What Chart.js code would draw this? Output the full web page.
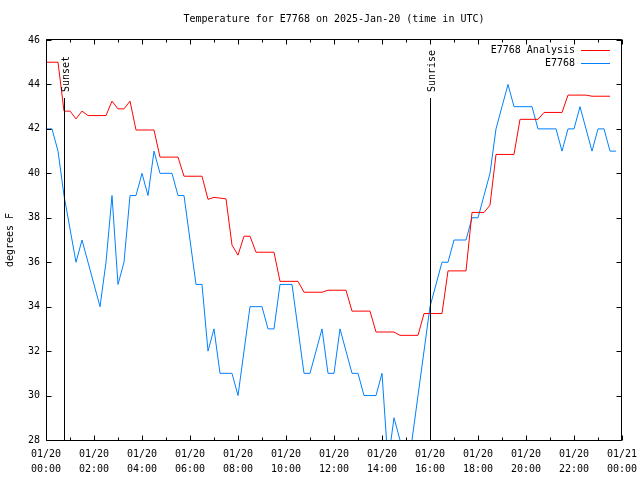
<!DOCTYPE html>
<html>
<head>
<meta charset="utf-8">
<title>Temperature for E7768</title>
<script src="https://cdn.jsdelivr.net/npm/chart.js"></script>
<style>
    html, body { margin: 0; padding: 0; background: #fff; }
    #contenedor { width: 640px; height: 480px; }
</style>
</head>
<body>
<div id="contenedor"><canvas id="grafico" width="640" height="480"></canvas></div>
<script>
// hours after 2025-01-20 00:00 UTC, temperatures in degrees F
const analysisHours = [0, 0.5, 0.75, 1, 1.25, 1.5, 1.75, 2.5, 2.75, 3, 3.25, 3.5, 3.75, 4.5, 4.75, 5.5,
    5.75, 6.5, 6.75, 7, 7.5, 7.75, 8, 8.25, 8.5, 8.75, 9.5, 9.75, 10.5, 10.75, 11.5, 11.75,
    12.5, 12.75, 13.5, 13.75, 14.5, 14.75, 15.5, 15.75, 16.5, 16.75, 17.5, 17.75, 18.25, 18.5,
    18.75, 19.5, 19.75, 20.5, 20.75, 21.5, 21.75, 22.5, 22.75, 23.5];
const analysisTemps = [45, 45, 42.8, 42.8, 42.45, 42.8, 42.6, 42.6, 43.25, 42.9, 42.9, 43.25, 41.95, 41.95, 40.73, 40.73,
    39.87, 39.87, 38.83, 38.92, 38.85, 36.77, 36.32, 37.17, 37.17, 36.45, 36.45, 35.14, 35.14, 34.65, 34.65, 34.74,
    34.74, 33.8, 33.8, 32.86, 32.86, 32.71, 32.71, 33.69, 33.69, 35.61, 35.61, 38.24, 38.24, 38.57,
    40.85, 40.85, 42.43, 42.43, 42.74, 42.74, 43.52, 43.52, 43.47, 43.47];

const stationHours = [0, 0.25, 0.5, 0.75, 1.25, 1.5, 2.25, 2.5, 2.75, 3, 3.25, 3.5, 3.75, 4, 4.25, 4.5,
    4.75, 5.25, 5.5, 5.75, 6, 6.25, 6.5, 6.75, 7, 7.25, 7.75, 8, 8.5, 9, 9.25, 9.5,
    9.75, 10.25, 10.75, 11, 11.5, 11.75, 12, 12.25, 12.75, 13, 13.25, 13.75, 14, 14.25,
    14.5, 14.75, 15, 15.25, 16, 16.5, 16.75, 17, 17.5, 17.75, 18, 18.25, 18.5, 18.75,
    19, 19.25, 19.5, 20.25, 20.5, 21.25, 21.5, 21.75, 22, 22.25, 22.75, 23, 23.25, 23.5, 23.75];
const stationTemps = [42, 42, 41, 39, 36, 37, 34, 36, 39, 35, 36, 39, 39, 40, 39, 41,
    40, 40, 39, 39, 37, 35, 35, 32, 33, 31, 31, 30, 34, 34, 33, 33,
    35, 35, 31, 31, 33, 31, 31, 33, 31, 31, 30, 30, 31, 27,
    29, 28, 27, 28, 34, 36, 36, 37, 37, 38, 38, 39, 40, 42,
    43, 44, 43, 43, 42, 42, 41, 42, 42, 43, 41, 42, 42, 41, 41];

const tickDays = ["01/20", "01/20", "01/20", "01/20", "01/20", "01/20", "01/20",
    "01/20", "01/20", "01/20", "01/20", "01/20", "01/21"];
const tickTimes = ["00:00", "02:00", "04:00", "06:00", "08:00", "10:00", "12:00",
    "14:00", "16:00", "18:00", "20:00", "22:00", "00:00"];

const sunNames = ["Sunset", "Sunrise"];
const sunHours = [0.75, 16];

const titulo = "Temperature for E7768 on 2025-Jan-20 (time in UTC)";
const fuente = "'DejaVu Sans Mono', 'Liberation Mono', monospace";

function puntos(horas, temps) {
    return horas.map((h, i) => ({ x: h, y: temps[i] }));
}

// title, box, inward ticks, sunset/sunrise markers and the gnuplot style key
const marco = {
    id: "marco",
    afterDatasetsDraw(chart) {
        const { ctx, chartArea: area, scales: { x, y } } = chart;
        const izq = area.left + 0.5, der = area.right - 0.5;
        const arriba = area.top - 0.5, abajo = area.bottom + 0.5;
        ctx.save();

        ctx.fillStyle = "#000";
        ctx.font = "10px " + fuente;
        ctx.textAlign = "center";
        ctx.textBaseline = "middle";
        ctx.fillText(titulo, (area.left + area.right) / 2, 19);

        ctx.strokeStyle = "#000";
        ctx.lineWidth = 1;
        ctx.beginPath();
        ctx.rect(izq, arriba, der - izq, abajo - arriba);

        x.ticks.forEach((t, i) => {
            const px = Math.round(x.getPixelForValue(t.value)) + 0.5;
            ctx.moveTo(px, abajo); ctx.lineTo(px, abajo - 5);
            ctx.moveTo(px, arriba); ctx.lineTo(px, arriba + 5);
            if (i < x.ticks.length - 1) {
                const mid = (t.value + x.ticks[i + 1].value) / 2;
                const pm = Math.round(x.getPixelForValue(mid)) + 0.5;
                ctx.moveTo(pm, abajo); ctx.lineTo(pm, abajo - 3);
                ctx.moveTo(pm, arriba); ctx.lineTo(pm, arriba + 3);
            }
        });
        y.ticks.forEach(t => {
            const py = Math.round(y.getPixelForValue(t.value)) + 0.5;
            ctx.moveTo(izq, py); ctx.lineTo(izq + 5, py);
            ctx.moveTo(der, py); ctx.lineTo(der - 5, py);
        });

        sunHours.forEach(h => {
            const px = Math.round(x.getPixelForValue(h)) + 0.5;
            ctx.moveTo(px, abajo); ctx.lineTo(px, area.top + 58);
        });
        ctx.stroke();

        sunNames.forEach((nombre, i) => {
            const px = Math.round(x.getPixelForValue(sunHours[i])) + 0.5;
            ctx.save();
            ctx.translate(px + 1.5, area.top + 52);
            ctx.rotate(-Math.PI / 2);
            ctx.textAlign = "left";
            ctx.textBaseline = "middle";
            ctx.fillText(nombre, 0, 0);
            ctx.restore();
        });

        chart.data.datasets.forEach((ds, i) => {
            const ly = area.top + 9.5 + i * 13;
            ctx.textAlign = "right";
            ctx.textBaseline = "middle";
            ctx.fillStyle = "#000";
            ctx.fillText(ds.label, area.right - 47, ly + 0.5);
            ctx.strokeStyle = ds.borderColor;
            ctx.beginPath();
            ctx.moveTo(area.right - 41, Math.round(ly) + 0.5);
            ctx.lineTo(area.right - 12, Math.round(ly) + 0.5);
            ctx.stroke();
        });
        ctx.restore();
    }
};

const ctx = document.getElementById("grafico").getContext("2d");
new Chart(ctx, {
    type: "line",
    data: {
        datasets: [
            {
                label: "E7768 Analysis",
                data: puntos(analysisHours, analysisTemps),
                borderColor: "#ff0000",
                borderWidth: 1,
                pointRadius: 0,
                tension: 0
            },
            {
                label: "E7768",
                data: puntos(stationHours, stationTemps),
                borderColor: "#0080ff",
                borderWidth: 1,
                pointRadius: 0,
                tension: 0
            }
        ]
    },
    options: {
        responsive: false,
        animation: false,
        devicePixelRatio: 1,
        layout: { padding: { left: 0, right: 18, top: 40, bottom: 0 } },
        plugins: {
            legend: { display: false },
            tooltip: { enabled: false },
            title: { display: false }
        },
        scales: {
            x: {
                type: "linear",
                min: 0,
                max: 24,
                grid: { display: false, drawTicks: false },
                border: { display: false },
                ticks: {
                    stepSize: 2,
                    maxRotation: 0,
                    autoSkip: false,
                    padding: 7,
                    color: "#000",
                    font: { family: fuente, size: 10, lineHeight: 1.5 },
                    callback: (v, i) => [tickDays[i], tickTimes[i]]
                },
                afterFit: s => { s.height = 40; s.paddingLeft = 0; s.paddingRight = 0; }
            },
            y: {
                min: 28,
                max: 46,
                grid: { display: false, drawTicks: false },
                border: { display: false },
                ticks: {
                    stepSize: 2,
                    padding: 6,
                    color: "#000",
                    font: { family: fuente, size: 10 }
                },
                title: {
                    display: true,
                    text: "degrees F",
                    color: "#000",
                    font: { family: fuente, size: 10, lineHeight: 1.2 },
                    padding: { top: 4, bottom: 0 }
                },
                afterFit: s => { s.width = 46; s.paddingTop = 0; s.paddingBottom = 0; }
            }
        }
    },
    plugins: [marco]
});
</script>
</body>
</html>
